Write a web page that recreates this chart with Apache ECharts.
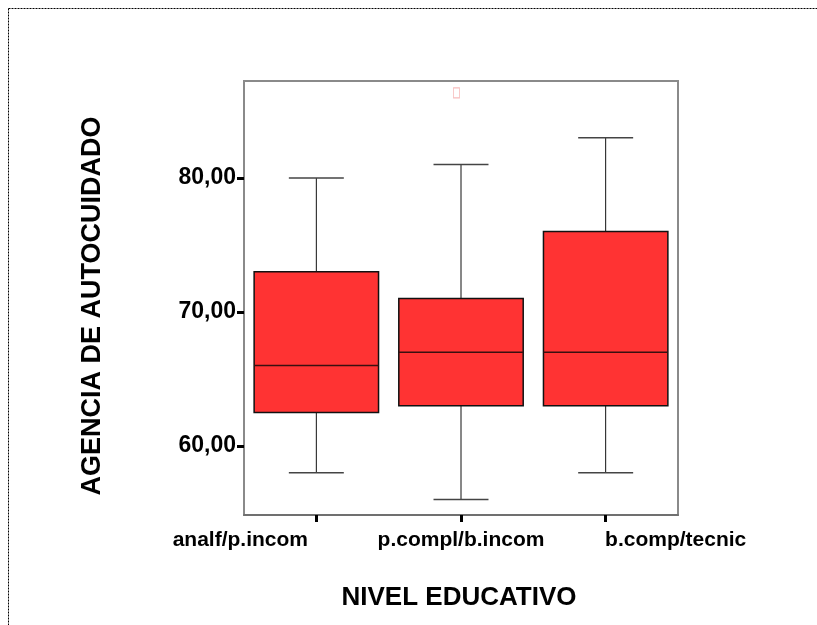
<!DOCTYPE html>
<html>
<head>
<meta charset="utf-8">
<script src="https://cdn.jsdelivr.net/npm/echarts@6/dist/echarts.min.js"></script>
<style>
  html, body { margin: 0; padding: 0; background: #fff; }
  #chart { width: 817px; height: 625px; }
</style>
</head>
<body>
<div id="chart"></div>
<script>
// Education level groups
const categories = ['analf/p.incom', 'p.compl/b.incom', 'b.comp/tecnic'];
// Five-number summaries per group: lower whisker, Q1, median, Q3, upper whisker
const whiskerLow = [58, 56, 58];
const quartile1  = [62.5, 63, 63];
const medians    = [66, 67, 67];
const quartile3  = [73, 71, 76];
const whiskerHigh = [80, 81, 83];
// Extreme value flagged in the middle group
const outliers = [[1, 86.35]];
// Labelled ticks on the value axis
const yTicks = [60, 70, 80];

const boxData = categories.map((c, i) => [i, whiskerLow[i], quartile1[i], medians[i], quartile3[i], whiskerHigh[i]]);

const FONT = '"Liberation Sans", Arial, sans-serif';

function renderBox(params, api) {
  const idx = api.value(0);
  const band = api.size([1, 0])[0];
  const half = band * 0.43;
  const capHalf = band * 0.19;
  const pLow = api.coord([idx, api.value(1)]);
  const pQ1 = api.coord([idx, api.value(2)]);
  const pMed = api.coord([idx, api.value(3)]);
  const pQ3 = api.coord([idx, api.value(4)]);
  const pHigh = api.coord([idx, api.value(5)]);
  const x = pMed[0];
  return {
    type: 'group',
    children: [
      { type: 'line', shape: { x1: x, y1: pHigh[1], x2: x, y2: pQ3[1] }, style: { stroke: '#111', lineWidth: 1 } },
      { type: 'line', shape: { x1: x, y1: pQ1[1], x2: x, y2: pLow[1] }, style: { stroke: '#111', lineWidth: 1 } },
      { type: 'line', shape: { x1: x - capHalf, y1: pHigh[1], x2: x + capHalf, y2: pHigh[1] }, style: { stroke: '#444', lineWidth: 1.5 } },
      { type: 'line', shape: { x1: x - capHalf, y1: pLow[1], x2: x + capHalf, y2: pLow[1] }, style: { stroke: '#444', lineWidth: 1.5 } },
      { type: 'rect', shape: { x: x - half, y: pQ3[1], width: half * 2, height: pQ1[1] - pQ3[1] },
        style: { fill: '#FF3333', stroke: '#111', lineWidth: 1.5 } },
      { type: 'line', shape: { x1: x - half, y1: pMed[1], x2: x + half, y2: pMed[1] }, style: { stroke: '#3a1010', lineWidth: 1.5 } }
    ]
  };
}

// category labels are spread out: the first one sits left of its tick, the last one right of it
const labelStyle = { color: '#000', fontFamily: FONT, fontWeight: 'bold', fontSize: 21 };

const chart = echarts.init(document.getElementById('chart'), null, { renderer: 'canvas' });
chart.setOption({
  animation: false,
  backgroundColor: '#ffffff',
  grid: {
    left: 244, top: 81, width: 434, height: 434,
    show: true, borderColor: '#8a8a8a', borderWidth: 2, backgroundColor: 'transparent'
  },
  xAxis: {
    type: 'category',
    data: categories,
    boundaryGap: true,
    axisLine: { show: true, lineStyle: { color: '#707070', width: 2 } },
    axisTick: { show: true, alignWithLabel: true, length: 7, lineStyle: { color: '#000', width: 3 } },
    axisLabel: {
      interval: 0,
      hideOverlap: false,
      margin: 15,
      formatter: (v, i) => i === 0 ? '{l|' + v + '}' : (i === 2 ? '{r|' + v + '}' : '{m|' + v + '}'),
      rich: {
        l: Object.assign({ padding: [0, 152, 0, 0] }, labelStyle),
        m: Object.assign({ padding: [0, 0, 0, 0] }, labelStyle),
        r: Object.assign({ padding: [0, 0, 0, 140] }, labelStyle)
      }
    },
    splitLine: { show: false }
  },
  yAxis: {
    type: 'value',
    min: 54.85,
    max: 87.24,
    axisLine: { show: true, lineStyle: { color: '#8a8a8a', width: 2 } },
    axisTick: { show: true, length: 7, customValues: yTicks, lineStyle: { color: '#000', width: 3 } },
    axisLabel: {
      customValues: yTicks,
      color: '#000', fontFamily: FONT, fontWeight: 'bold', fontSize: 23, margin: 8,
      formatter: v => v.toFixed(2).replace('.', ',')
    },
    splitLine: { show: false }
  },
  series: [
    {
      type: 'custom',
      renderItem: renderBox,
      encode: { x: 0, y: [1, 2, 3, 4, 5] },
      data: boxData,
      z: 2
    },
    {
      type: 'scatter',
      data: outliers,
      symbol: 'rect',
      symbolSize: [6, 10],
      symbolOffset: [-4.5, 0],
      itemStyle: { color: 'rgba(0,0,0,0)', borderColor: '#f4aaaa', borderWidth: 1 },
      z: 3
    }
  ],
  graphic: [
    // dotted page frame
    { type: 'line', shape: { x1: 8.5, y1: 8.5, x2: 817, y2: 8.5 }, style: { stroke: '#000', lineWidth: 1, lineDash: [2, 1] } },
    { type: 'line', shape: { x1: 8.5, y1: 8.5, x2: 8.5, y2: 625 }, style: { stroke: '#000', lineWidth: 1, lineDash: [2, 1] } },
    // axis titles
    { type: 'text', x: 459, y: 598,
      style: { text: 'NIVEL EDUCATIVO', fill: '#000', font: 'bold 26px ' + FONT, textAlign: 'center', textVerticalAlign: 'middle' } },
    { type: 'text', x: 93, y: 306, rotation: Math.PI / 2,
      style: { text: 'AGENCIA DE AUTOCUIDADO', fill: '#000', font: 'bold 27px ' + FONT, textAlign: 'center', textVerticalAlign: 'middle' } }
  ]
});
</script>
</body>
</html>
